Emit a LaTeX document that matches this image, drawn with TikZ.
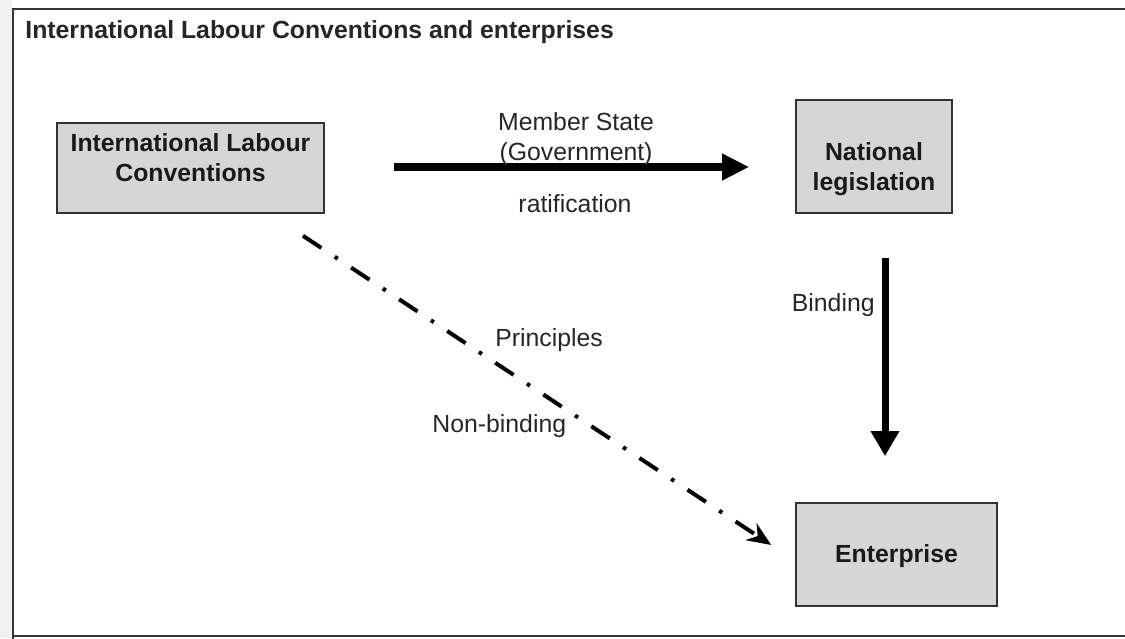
\documentclass[tikz,border=0pt]{standalone}
\usepackage{fontspec}
\setmainfont{Liberation Sans}
\usetikzlibrary{calc,arrows.meta}
\definecolor{boxgray}{HTML}{D6D6D6}
\definecolor{edgegray}{HTML}{333333}
\definecolor{stripgray}{HTML}{F0F0F0}
\newcommand{\textsz}{\fontsize{12.4}{15}\selectfont}
\tikzset{
	box/.style={draw=edgegray, line width=0.8pt, fill=boxgray, inner sep=0pt},
	boxlabel/.style={font=\textsz\bfseries, align=center, text=black!90},
	lbl/.style={font=\textsz, text=black!85, inner sep=0pt},
	bigarrow/.style={line width=4pt, -{Triangle[length=13.5pt,width=12.5pt]}},
	downarrow/.style={line width=3.5pt, -{Triangle[length=12.5pt,width=13.5pt]}},
	dasharrow/.style={line width=2pt, dash pattern=on 11pt off 8pt on 1.8pt off 8pt,
		-{Stealth[length=12pt,width=10pt]}}
}

\begin{document}
\begin{tikzpicture}[x=0.5pt,y=-0.5pt]
	\useasboundingbox (0,0) rectangle (1125,638);
	\fill[stripgray] (0,0) rectangle (12,638);
	\draw[edgegray, line width=1pt] (13,640) -- (13,8.5) -- (1130,8.5);
	\draw[edgegray, line width=1.2pt] (13,636) -- (1130,636);

	\node[lbl, font=\textsz\bfseries, anchor=base west] (title) at (25,38) {International Labour Conventions and enterprises};

	\node[box, minimum width=133.5pt, minimum height=45pt,
		label={[boxlabel, name=ilctext, yshift=5pt]center:{International Labour\\Conventions}}] (ilc) at (190.5,168) {};
	\node[box, minimum width=78pt, minimum height=56.5pt,
		label={[boxlabel, name=nattext, yshift=-6.25pt]center:{National\\legislation}}] (natleg) at (874,156.5) {};
	\node[box, minimum width=100.5pt, minimum height=51.5pt,
		label={[boxlabel, name=enttext, yshift=-1pt]center:{Enterprise}}] (enterprise) at (896.5,554.5) {};

	\coordinate (ratA) at ($(ilc.east)+(69,-1)$);
	\coordinate (ratB) at ($(natleg.west)+(-46,10.5)$);
	\coordinate (bindA) at ($(natleg.south)+(11,44)$);
	\coordinate (bindB) at ($(enterprise.north)+(-11.5,-46)$);
	\coordinate (prinA) at ($(ilc.south)+(112.5,22)$);
	\coordinate (prinB) at ($(enterprise.west)+(-24,-9.5)$);

	\draw[bigarrow] (ratA) -- (ratB);
	\draw[downarrow] (bindA) -- (bindB);
	\draw[dasharrow] (prinA) -- (prinB);

	\node[lbl, align=center] (member) at (576,139.5) {Member State\\(Government)};
	\node[lbl, anchor=base] (ratif) at (575,212.7) {ratification};
	\node[lbl, anchor=base east] (binding) at (875,311) {Binding};
	\node[lbl, anchor=base west] (principles) at (495,346) {Principles};
	\node[lbl, anchor=base west] (nonbinding) at (432,432) {Non-binding};
\end{tikzpicture}
\end{document}
